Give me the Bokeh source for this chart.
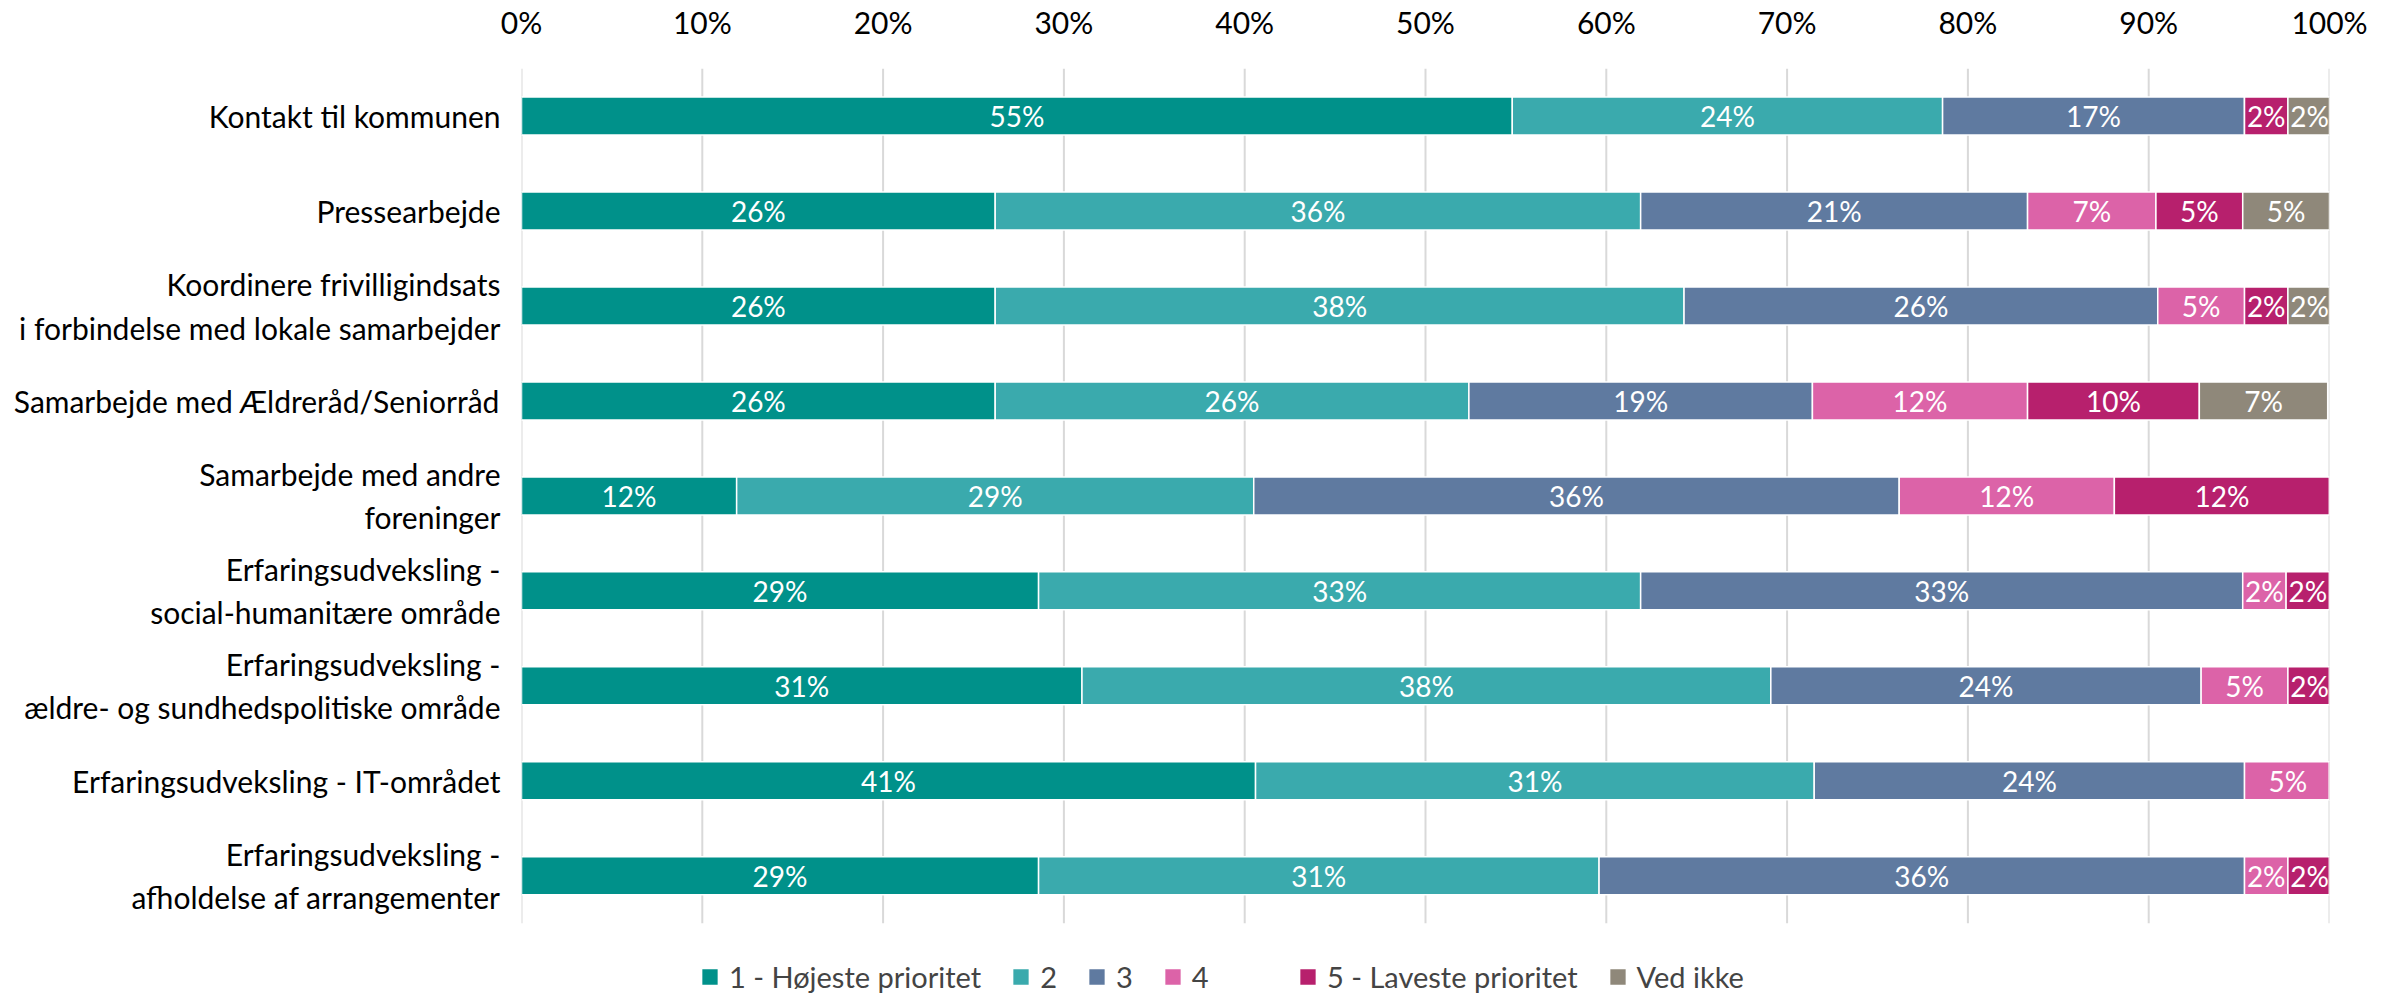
from bokeh.plotting import figure
from bokeh.models import Range1d, FixedTicker, ColumnDataSource, Legend, LegendItem
from bokeh.core.properties import value
from bokeh.embed import file_html
from bokeh.resources import INLINE

categories = [
    "Kontakt til kommunen",
    "Pressearbejde",
    "Koordinere frivilligindsats\ni forbindelse med lokale samarbejder",
    "Samarbejde med Ældreråd/Seniorråd",
    "Samarbejde med andre\nforeninger",
    "Erfaringsudveksling -\nsocial-humanitære område",
    "Erfaringsudveksling -\nældre- og sundhedspolitiske område",
    "Erfaringsudveksling - IT-området",
    "Erfaringsudveksling -\nafholdelse af arrangementer",
]
series_names = ["1 - Højeste prioritet", "2", "3", "4", "5 - Laveste prioritet", "Ved ikke"]
s1 = [54.8, 26.2, 26.2, 26.2, 11.9, 28.6, 31.0, 40.6, 28.6]
s2 = [23.8, 35.7, 38.1, 26.2, 28.6, 33.3, 38.1, 30.9, 31.0]
s3 = [16.7, 21.4, 26.2, 19.0, 35.7, 33.3, 23.8, 23.8, 35.7]
s4 = [0.0, 7.1, 4.8, 11.9, 11.9, 2.4, 4.8, 4.8, 2.4]
s5 = [2.4, 4.8, 2.4, 9.5, 11.9, 2.4, 2.4, 0.0, 2.4]
s6 = [2.4, 4.8, 2.4, 7.1, 0.0, 0.0, 0.0, 0.0, 0.0]
x_ticks = [0, 10, 20, 30, 40, 50, 60, 70, 80, 90, 100]
x_tick_labels = ["0%", "10%", "20%", "30%", "40%", "50%", "60%", "70%", "80%", "90%", "100%"]

colors = ["#00918A", "#3AAAAD", "#5F7AA0", "#DC63A8", "#B7206D", "#8F887A"]
FONT = "Lato"

series = [s1, s2, s3, s4, s5, s6]
keys = ["s1", "s2", "s3", "s4", "s5", "s6"]
ys = list(range(len(categories)))
data = {"y": ys}
for k, s in zip(keys, series):
    data[k] = s
source = ColumnDataSource(data)

n = len(categories)
# frame extends below the bars to host the legend
p = figure(width=2384, height=994,
           x_range=Range1d(0, 100), y_range=Range1d(n - 0.5 + 0.75, -0.5),
           x_axis_location="above", output_backend="svg", toolbar_location=None,
           min_border_left=521, min_border_right=55, min_border_top=56, min_border_bottom=0)

# vertical gridlines, only across the bar area
p.segment(x0=x_ticks, y0=[-0.5] * len(x_ticks), x1=x_ticks, y1=[n - 0.5] * len(x_ticks),
          line_color="#D9D9D9", line_width=2)

renderers = p.hbar_stack(keys, y="y", height=0.40, color=colors,
                         line_color="white", line_width=1.5, source=source)

# segment labels
lx, ly, lt = [], [], []
cum = [0.0] * n
for s in series:
    for i, v in enumerate(s):
        if v > 0:
            lx.append(cum[i] + v / 2)
            ly.append(ys[i])
            lt.append(f"{int(v + 0.5)}%")
        cum[i] += v
p.text(x=lx, y=ly, text=lt, text_align="center", text_baseline="middle",
       text_color="white", text_font=value(FONT), text_font_size="28px")

# axes
xa = p.xaxis[0]
xa.ticker = FixedTicker(ticks=x_ticks)
xa.major_label_overrides = {t: l for t, l in zip(x_ticks, x_tick_labels)}
xa.major_label_text_font = FONT
xa.major_label_text_font_size = "30px"
xa.major_label_text_color = "black"
xa.major_label_standoff = 23
xa.axis_line_color = None
xa.major_tick_line_color = None
xa.minor_tick_line_color = None

ya = p.yaxis[0]
ya.ticker = FixedTicker(ticks=ys)
ya.major_label_overrides = {y: c for y, c in zip(ys, categories)}
ya.major_label_text_font = FONT
ya.major_label_text_font_size = "30px"
ya.major_label_text_color = "black"
ya.major_label_standoff = 15
ya.axis_line_color = None
ya.major_tick_line_color = None
ya.minor_tick_line_color = None

p.xgrid.grid_line_color = None
p.ygrid.grid_line_color = None
p.outline_line_color = None

items = [LegendItem(label=nm, renderers=[r]) for nm, r in zip(series_names, renderers)]
legend_style = dict(orientation="horizontal",
                    label_text_font=FONT, label_text_font_size="29px",
                    glyph_width=21, glyph_height=21, label_standoff=9, spacing=29,
                    label_width=10, label_height=21, padding=0, margin=0,
                    border_line_color=None, background_fill_alpha=0)
legend_a = Legend(items=items[:4], location=(178, 0), **legend_style)
legend_b = Legend(items=items[4:], location=(776, 0), **legend_style)
p.add_layout(legend_a, "center")
p.add_layout(legend_b, "center")

open("out.html", "w").write(file_html(p, INLINE))
